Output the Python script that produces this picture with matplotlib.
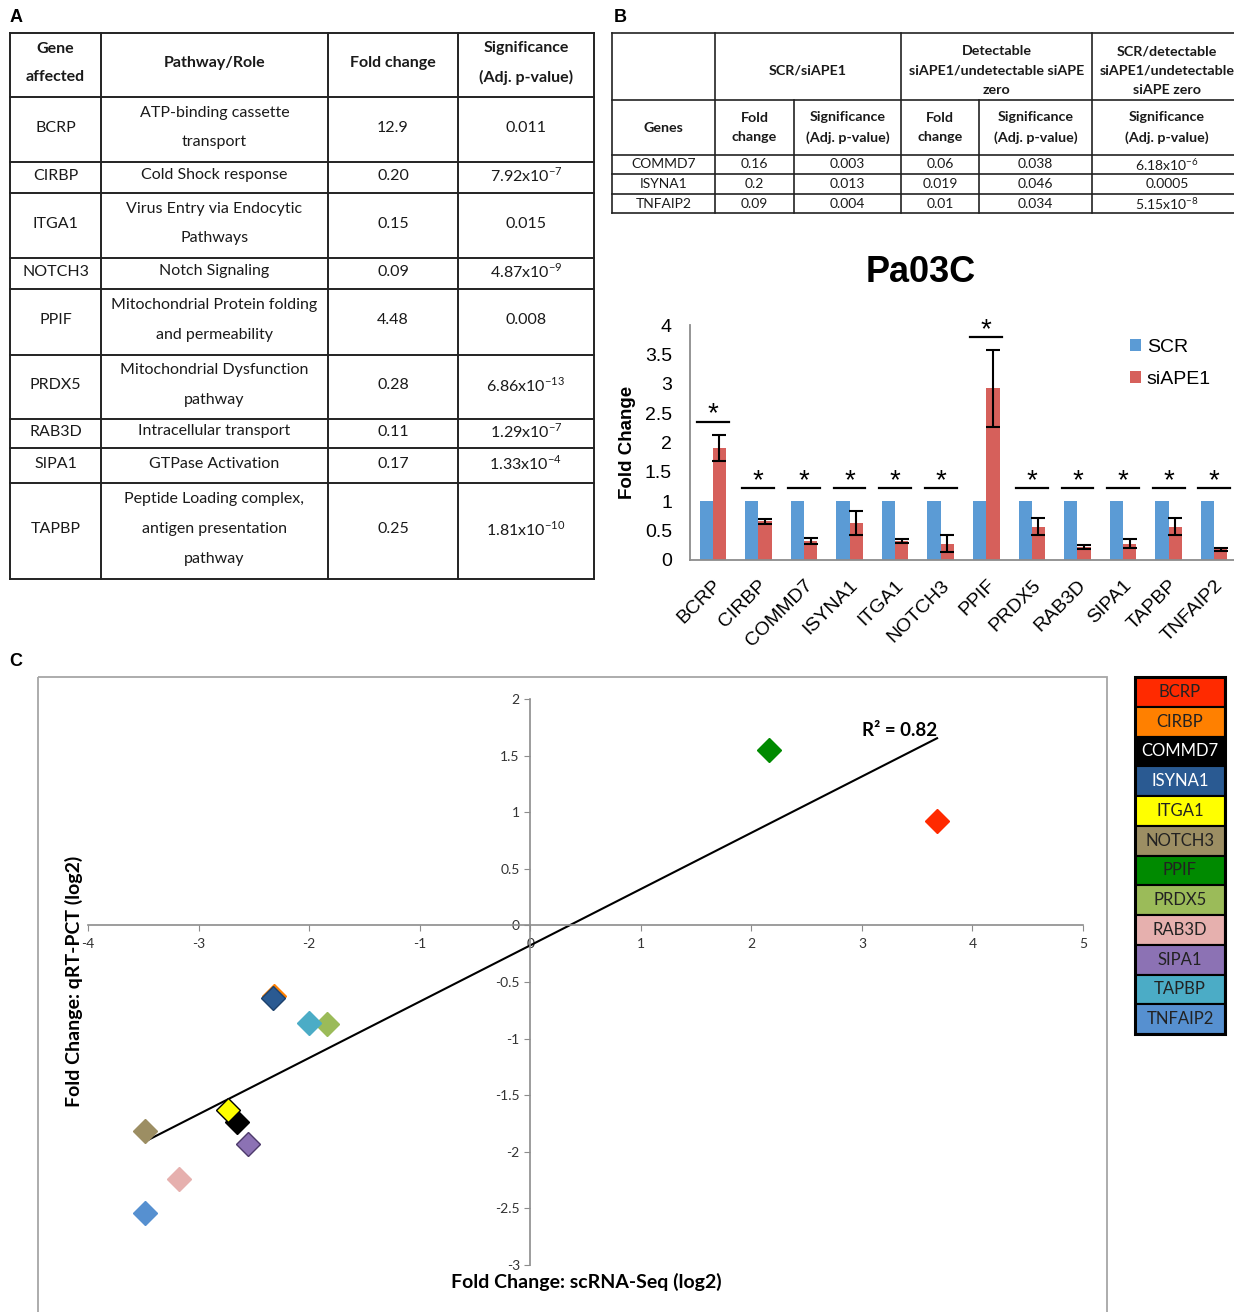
import numpy as np
import matplotlib.pyplot as plt
from matplotlib.patches import Rectangle
from matplotlib.ticker import FuncFormatter

plt.rcParams['axes.unicode_minus'] = False
plt.rcParams['mathtext.fontset'] = 'custom'
plt.rcParams['mathtext.rm'] = 'Lato'
plt.rcParams['mathtext.bf'] = 'Lato:bold'

# -----------------------------
# DATA
# -----------------------------
# table A
genes_a = ['BCRP', 'CIRBP', 'ITGA1', 'NOTCH3', 'PPIF', 'PRDX5', 'RAB3D', 'SIPA1', 'TAPBP']
roles_a = ['ATP-binding cassette\ntransport', 'Cold Shock response',
           'Virus Entry via Endocytic\nPathways', 'Notch Signaling',
           'Mitochondrial Protein folding\nand permeability',
           'Mitochondrial Dysfunction\npathway', 'Intracellular transport',
           'GTPase Activation',
           'Peptide Loading complex,\nantigen presentation\npathway']
fold_a = ['12.9', '0.20', '0.15', '0.09', '4.48', '0.28', '0.11', '0.17', '0.25']
pval_a = ['0.011', r'7.92x10$^{-7}$', '0.015', r'4.87x10$^{-9}$', '0.008',
          r'6.86x10$^{-13}$', r'1.29x10$^{-7}$', r'1.33x10$^{-4}$', r'1.81x10$^{-10}$']
header_a = ['Gene\naffected', 'Pathway/Role', 'Fold change', 'Significance\n(Adj. p-value)']

# table B
groups_b = ['SCR/siAPE1', 'Detectable\nsiAPE1/undetectable siAPE\nzero',
            'SCR/detectable\nsiAPE1/undetectable\nsiAPE zero']
header_b = ['Genes', 'Fold\nchange', 'Significance\n(Adj. p-value)', 'Fold\nchange',
            'Significance\n(Adj. p-value)', 'Significance\n(Adj. p-value)']
genes_b = ['COMMD7', 'ISYNA1', 'TNFAIP2']
fc1_b = ['0.16', '0.2', '0.09']
sig1_b = ['0.003', '0.013', '0.004']
fc2_b = ['0.06', '0.019', '0.01']
sig2_b = ['0.038', '0.046', '0.034']
sig3_b = [r'6.18x10$^{-6}$', '0.0005', r'5.15x10$^{-8}$']

# bar chart (Pa03C)
bar_genes = ['BCRP', 'CIRBP', 'COMMD7', 'ISYNA1', 'ITGA1', 'NOTCH3', 'PPIF',
             'PRDX5', 'RAB3D', 'SIPA1', 'TAPBP', 'TNFAIP2']
scr = [1, 1, 1, 1, 1, 1, 1, 1, 1, 1, 1, 1]
siape1 = [1.91, 0.66, 0.32, 0.63, 0.32, 0.28, 2.92, 0.57, 0.22, 0.28, 0.57, 0.18]
siape1_err = [0.22, 0.04, 0.05, 0.20, 0.03, 0.14, 0.65, 0.15, 0.04, 0.08, 0.15, 0.03]

# scatter (panel C)
sc_genes = ['BCRP', 'CIRBP', 'COMMD7', 'ISYNA1', 'ITGA1', 'NOTCH3', 'PPIF',
            'PRDX5', 'RAB3D', 'SIPA1', 'TAPBP', 'TNFAIP2']
fc_seq = [3.68, -2.32, -2.65, -2.33, -2.73, -3.48, 2.16, -1.84, -3.18, -2.55, -2.00, -3.48]
fc_qpcr = [0.92, -0.62, -1.74, -0.64, -1.63, -1.82, 1.55, -0.87, -2.24, -1.93, -0.86, -2.54]
r2_label = 'R² = 0.82'

# colours
BLUE = '#5B9BD5'
RED = '#D6605B'
gene_colors = ['#FF2A00', '#FF8000', '#000000', '#2A5A92', '#FFFF00', '#9C8E63',
               '#008A00', '#9BBB59', '#E6B0AE', '#8C72B4', '#4BACC6', '#5690D0']
gene_edges = ['#FF2A00', '#FF8000', '#000000', '#1d416c', '#000000', '#9C8E63',
              '#008A00', '#9BBB59', '#E6B0AE', '#4d3a6b', '#4BACC6', '#5690D0']
legend_text = ['#222222', '#222222', 'white', 'white', '#222222', '#222222',
               '#222222', '#222222', '#222222', '#222222', '#222222', '#222222']

# -----------------------------
# FIGURE
# -----------------------------
W, H = 1234, 1312
fig = plt.figure(figsize=(W / 100, H / 100), dpi=100)


def px_axes(l, t, r, b):
    return fig.add_axes([l / W, 1 - b / H, (r - l) / W, (b - t) / H])


bg = px_axes(0, 0, W, H)
bg.set_xlim(0, W)
bg.set_ylim(H, 0)
bg.axis('off')

TXT = '#1a1a1a'
LINE = '#222222'
tfont = dict(family='Lato', color=TXT, ha='center', va='center')

# panel letters
for lx, ly, s in [(16, 18, 'A'), (620, 18, 'B'), (16, 662, 'C')]:
    bg.text(lx, ly, s, family='Liberation Sans', fontweight='bold', fontsize=13,
            ha='center', va='center')

# -----------------------------
# TABLE A
# -----------------------------
ta_cols = [10, 101, 328, 458, 594]
ta_rows = [33, 97, 162, 193, 258, 289, 355, 419, 448, 483, 579]
for x in ta_cols:
    bg.plot([x, x], [ta_rows[0], ta_rows[-1]], color=LINE, lw=1.4)
for y in ta_rows:
    bg.plot([ta_cols[0], ta_cols[-1]], [y, y], color=LINE, lw=1.4)

centers_x = [(ta_cols[i] + ta_cols[i + 1]) / 2 for i in range(4)]
for j, h in enumerate(header_a):
    bg.text(centers_x[j], (ta_rows[0] + ta_rows[1]) / 2 - 2, h, fontweight='bold',
            fontsize=11.5, linespacing=2.3, **tfont)
for i in range(len(genes_a)):
    cy = (ta_rows[i + 1] + ta_rows[i + 2]) / 2 - 2
    row = [genes_a[i], roles_a[i], fold_a[i], pval_a[i]]
    for j, s in enumerate(row):
        bg.text(centers_x[j], cy, s, fontsize=11.5, linespacing=2.45, **tfont)

# -----------------------------
# TABLE B
# -----------------------------
tb_cols = [612, 715, 794, 901, 979, 1092, 1242]
tb_rows = [33, 100, 155, 174, 194, 213]
for x in [612, 715, 901, 1092]:
    bg.plot([x, x], [tb_rows[0], tb_rows[-1]], color=LINE, lw=1.2)
for x in [794, 979]:
    bg.plot([x, x], [tb_rows[1], tb_rows[-1]], color=LINE, lw=1.2)
for y in tb_rows:
    bg.plot([tb_cols[0], tb_cols[-1]], [y, y], color=LINE, lw=1.2)

group_spans = [(715, 901), (901, 1092), (1092, 1242)]
for (a, b), s in zip(group_spans, groups_b):
    bg.text((a + b) / 2, (tb_rows[0] + tb_rows[1]) / 2 + 4, s, fontweight='bold',
            fontsize=10.3, linespacing=1.75, **tfont)
bcx = [(tb_cols[i] + tb_cols[i + 1]) / 2 for i in range(6)]
for j, s in enumerate(header_b):
    bg.text(bcx[j], (tb_rows[1] + tb_rows[2]) / 2, s, fontweight='bold',
            fontsize=10.3, linespacing=1.75, **tfont)
for i in range(len(genes_b)):
    cy = (tb_rows[i + 2] + tb_rows[i + 3]) / 2
    row = [genes_b[i], fc1_b[i], sig1_b[i], fc2_b[i], sig2_b[i], sig3_b[i]]
    for j, s in enumerate(row):
        bg.text(bcx[j], cy, s, fontsize=10, **tfont)

# -----------------------------
# BAR CHART
# -----------------------------
axb = px_axes(690, 325, 1237, 560)
x = np.arange(len(bar_genes))
w = 0.29
axb.bar(x - w / 2, scr, w, color=BLUE, label='SCR')
axb.bar(x + w / 2, siape1, w, yerr=siape1_err, color=RED, label='siAPE1',
        error_kw=dict(ecolor='black', elinewidth=1.5, capsize=5, capthick=1.5))
for i in range(len(bar_genes)):
    ly = max(scr[i], siape1[i] + siape1_err[i]) + 0.22
    axb.plot([i - 0.35, i + 0.35], [ly, ly], color='black', lw=1.6, clip_on=False)
    axb.text(i, ly + 0.01, '*', family='Liberation Sans', fontsize=20,
             ha='center', va='baseline', clip_on=False)

axb.set_xlim(-0.5, len(bar_genes) - 0.5)
axb.set_ylim(0, 4)
axb.set_yticks(np.arange(0, 4.01, 0.5))
axb.yaxis.set_major_formatter(FuncFormatter(lambda v, p: '%g' % v))
axb.set_xticks(x)
axb.set_xticklabels(bar_genes, rotation=45, ha='right', rotation_mode='anchor',
                    family='Liberation Sans', fontsize=14)
for lab in axb.get_yticklabels():
    lab.set_family('Liberation Sans')
    lab.set_fontsize(14)
axb.tick_params(length=0, pad=12)
axb.tick_params(axis='y', pad=13)
for s in ['top', 'right']:
    axb.spines[s].set_visible(False)
for s in ['left', 'bottom']:
    axb.spines[s].set_color('#8c8c8c')
    axb.spines[s].set_linewidth(1.3)
axb.set_ylabel('Fold Change', family='Liberation Sans', fontweight='bold',
               fontsize=13.5, labelpad=6)
axb.legend(loc='upper left', bbox_to_anchor=(0.805, 0.94), frameon=False,
           prop=dict(family='Liberation Sans', size=14), handlelength=0.55,
           handleheight=0.55, handletextpad=0.3, labelspacing=0.75,
           borderaxespad=0, borderpad=0)
bg.text(921, 273, 'Pa03C', family='Liberation Sans', fontweight='bold',
        fontsize=26, ha='center', va='center')

# -----------------------------
# SCATTER
# -----------------------------
bg.add_patch(Rectangle((38, 677), 1069, 700, fill=False, ec='#a6a6a6', lw=1.3))

axs = px_axes(88, 699, 1083, 1265)
for xv, yv, c, ec in zip(fc_seq, fc_qpcr, gene_colors, gene_edges):
    axs.plot(xv, yv, marker='D', ms=12, color=c, mec=ec, mew=1, zorder=3,
             clip_on=False)

coef = np.polyfit(fc_seq, fc_qpcr, 1)
xs = np.array([min(fc_seq), max(fc_seq)])
axs.plot(xs, np.polyval(coef, xs), color='black', lw=1.5, zorder=2)
axs.text(xs[1], np.polyval(coef, xs[1]) - 0.01, r2_label, family='Lato',
         fontweight='bold', fontsize=13.5, ha='right', va='bottom')

axs.set_xlim(-4, 5)
axs.set_ylim(-3, 2)
axs.set_xticks(np.arange(-4, 5.1, 1))
axs.set_yticks(np.arange(-3, 2.01, 0.5))
fmt = FuncFormatter(lambda v, p: '%g' % v)
axs.xaxis.set_major_formatter(fmt)
axs.yaxis.set_major_formatter(fmt)
axs.spines['left'].set_position(('data', 0))
axs.spines['bottom'].set_position(('data', 0))
for s in ['top', 'right']:
    axs.spines[s].set_visible(False)
for s in ['left', 'bottom']:
    axs.spines[s].set_color('#8c8c8c')
    axs.spines[s].set_linewidth(1.2)
axs.tick_params(direction='out', length=4, color='#8c8c8c', labelsize=10,
                labelcolor='#333333')
axs.tick_params(axis='x', pad=5)
for lab in axs.get_xticklabels() + axs.get_yticklabels():
    lab.set_family('Lato')
axs.patch.set_alpha(0)

bg.text(586, 1282, 'Fold Change: scRNA-Seq (log2)', family='Lato',
        fontweight='bold', fontsize=14, ha='center', va='center')
bg.text(74, 981, 'Fold Change: qRT-PCT (log2)', family='Lato', fontweight='bold',
        fontsize=14, ha='center', va='center', rotation=90)

# legend boxes
axl = px_axes(1135, 677, 1225, 1034)
axl.set_xlim(0, 1)
axl.set_ylim(len(sc_genes), 0)
axl.axis('off')
for i, g in enumerate(sc_genes):
    axl.add_patch(Rectangle((0, i), 1, 1, facecolor=gene_colors[i],
                            edgecolor='black', lw=1.5))
    axl.text(0.5, i + 0.5, g, family='Lato', fontsize=12, color=legend_text[i],
             ha='center', va='center')
axl.add_patch(Rectangle((0, 0), 1, len(sc_genes), fill=False, edgecolor='black',
                        lw=2.2, clip_on=False))

fig.savefig('out.png', dpi=100)
